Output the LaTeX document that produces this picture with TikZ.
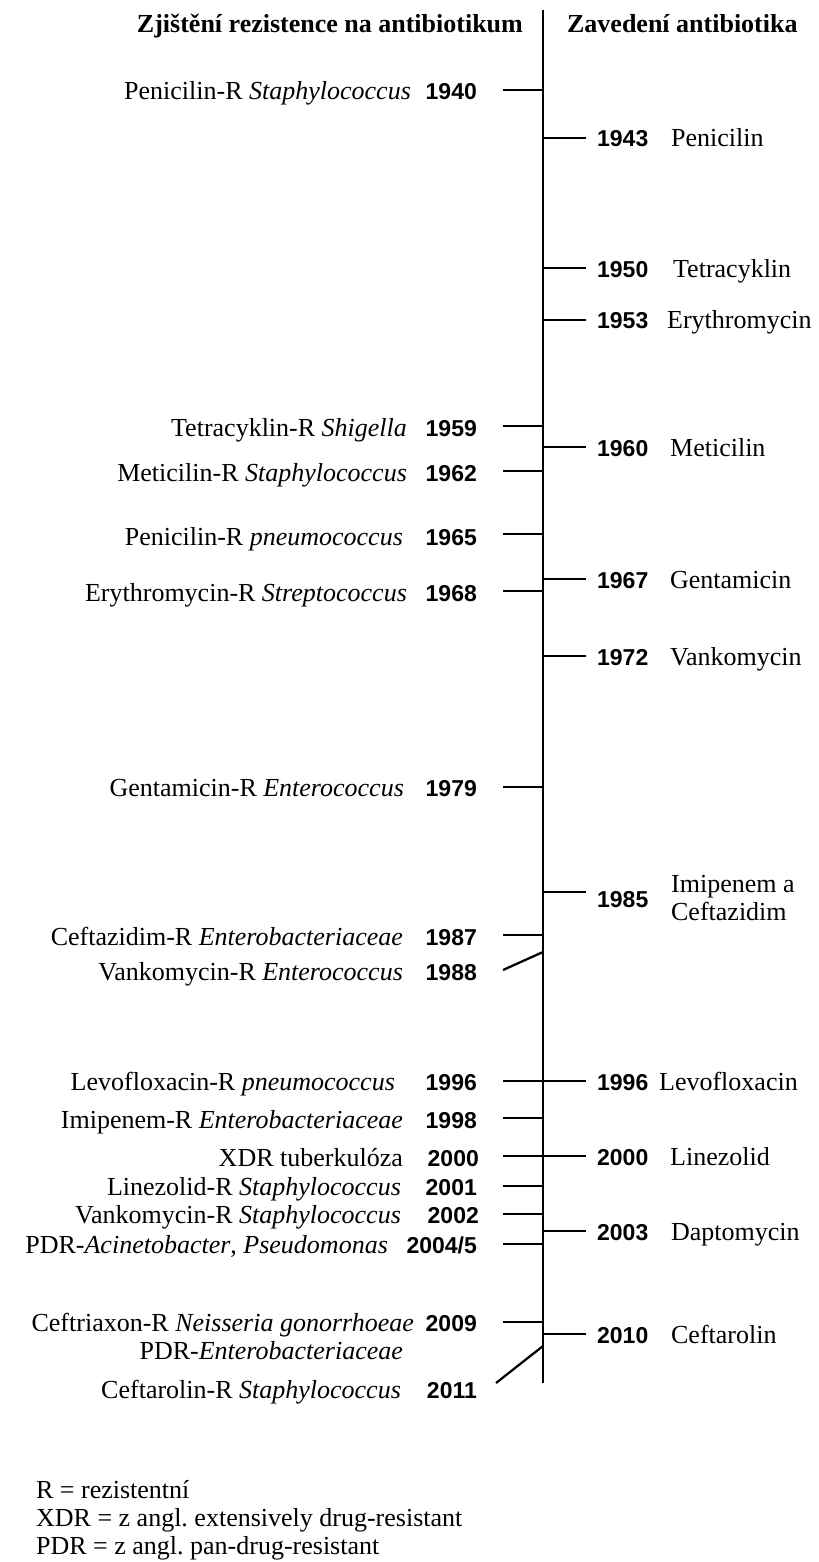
\documentclass[tikz,border=0pt]{standalone}
\usepackage{fontspec}
\setmainfont{Liberation Serif}
\newfontfamily\yrfam{Liberation Sans}
\newcommand{\lblfont}{\fontsize{19.5}{23.4}\selectfont}
\newcommand{\yrfont}{\yrfam\bfseries\fontsize{17.25}{20}\selectfont}

\begin{document}
\begin{tikzpicture}[x=0.75pt,y=-0.75pt,line width=1.7pt,
    lbl/.style={anchor=base east,inner sep=0pt,font=\lblfont},
    rlbl/.style={anchor=base west,inner sep=0pt,font=\lblfont},
    yrl/.style={anchor=base east,inner sep=0pt,font=\yrfont},
    yrr/.style={anchor=base west,inner sep=0pt,font=\yrfont}]
  \useasboundingbox (0,0) rectangle (818,1562);
  % headings
  \node[lbl,font=\lblfont\bfseries] (HL) at (524,33) {Zjištění rezistence na antibiotikum};
  \node[rlbl,font=\lblfont\bfseries] (HR) at (566,33) {Zavedení antibiotika};
  % axis
  \coordinate (top) at (543,10);
  \coordinate (bot) at (543,1383);
  \path (top) edge (bot);
  % resistance (left)
  \node[yrl] (Y1940) at (478,100) {1940};
  \node[lbl] (L1940) at (412,100) {Penicilin-R \textit{Staphylococcus}};
  \node[yrl] (Y1959) at (478,436) {1959};
  \node[lbl] (L1959) at (408,436) {Tetracyklin-R \textit{Shigella}};
  \node[yrl] (Y1962) at (478,481) {1962};
  \node[lbl] (L1962) at (408,481) {Meticilin-R \textit{Staphylococcus}};
  \node[yrl] (Y1965) at (478,545) {1965};
  \node[lbl] (L1965) at (404,545) {Penicilin-R \textit{pneumococcus}};
  \node[yrl] (Y1968) at (478,601) {1968};
  \node[lbl] (L1968) at (408,601) {Erythromycin-R \textit{Streptococcus}};
  \node[yrl] (Y1979) at (478,796) {1979};
  \node[lbl] (L1979) at (405,796) {Gentamicin-R \textit{Enterococcus}};
  \node[yrl] (Y1987) at (478,945) {1987};
  \node[lbl] (L1987) at (404,945) {Ceftazidim-R \textit{Enterobacteriaceae}};
  \node[yrl] (Y1988) at (478,980) {1988};
  \node[lbl] (L1988) at (404,980) {Vankomycin-R \textit{Enterococcus}};
  \node[yrl] (Y1996) at (478,1090) {1996};
  \node[lbl] (L1996) at (396,1090) {Levofloxacin-R \textit{pneumococcus}};
  \node[yrl] (Y1998) at (478,1128) {1998};
  \node[lbl] (L1998) at (404,1128) {Imipenem-R \textit{Enterobacteriaceae}};
  \node[yrl] (Y2000) at (480,1166) {2000};
  \node[lbl] (L2000) at (404,1166) {XDR tuberkulóza};
  \node[yrl] (Y2001) at (478,1195) {2001};
  \node[lbl] (L2001) at (402,1195) {Linezolid-R \textit{Staphylococcus}};
  \node[yrl] (Y2002) at (480,1223) {2002};
  \node[lbl] (L2002) at (402,1223) {Vankomycin-R \textit{Staphylococcus}};
  \node[yrl] (Y2004) at (478,1253) {2004/5};
  \node[lbl] (L2004) at (389,1253) {PDR-\textit{Acinetobacter}, \textit{Pseudomonas}};
  \node[yrl] (Y2009) at (478,1331) {2009};
  \node[lbl] (L2009) at (415,1331) {Ceftriaxon-R \textit{Neisseria gonorrhoeae}};
  \node[lbl] (L2009b) at (404,1359) {PDR-\textit{Enterobacteriaceae}};
  \node[yrl] (Y2011) at (478,1398) {2011};
  \node[lbl] (L2011) at (402,1398) {Ceftarolin-R \textit{Staphylococcus}};
  % introduction (right)
  \node[yrr] (Y1943) at (596,147) {1943};
  \node[rlbl] (R1943) at (670,147) {Penicilin};
  \node[yrr] (Y1950) at (596,277) {1950};
  \node[rlbl] (R1950) at (672,277) {Tetracyklin};
  \node[yrr] (Y1953) at (596,328) {1953};
  \node[rlbl] (R1953) at (666,328) {Erythromycin};
  \node[yrr] (Y1960) at (596,456) {1960};
  \node[rlbl] (R1960) at (669,456) {Meticilin};
  \node[yrr] (Y1967) at (596,588) {1967};
  \node[rlbl] (R1967) at (669,588) {Gentamicin};
  \node[yrr] (Y1972) at (596,665) {1972};
  \node[rlbl] (R1972) at (669,665) {Vankomycin};
  \node[yrr] (Y1985) at (596,907) {1985};
  \node[rlbl] (R1985) at (670,892) {Imipenem a};
  \node[rlbl] (R1985b) at (670,920) {Ceftazidim};
  \node[yrr] (Y1996r) at (596,1090) {1996};
  \node[rlbl] (R1996) at (658,1090) {Levofloxacin};
  \node[yrr] (Y2000r) at (596,1165) {2000};
  \node[rlbl] (R2000) at (669,1165) {Linezolid};
  \node[yrr] (Y2003) at (596,1240) {2003};
  \node[rlbl] (R2003) at (670,1240) {Daptomycin};
  \node[yrr] (Y2010) at (596,1343) {2010};
  \node[rlbl] (R2010) at (670,1343) {Ceftarolin};
  % ticks
  \foreach \n/\y in {1940/90,1959/426,1962/471,1965/534,1968/591,1979/787,1987/935,
      1996/1081,1998/1118,2000/1156,2001/1186,2002/1214,2004/1244,2009/1322}{
    \coordinate (a\n) at (543,\y);
    \coordinate (t\n) at (503,\y);
    \path (t\n) edge (a\n);
  }
  \foreach \n/\y in {1943/138,1950/268,1953/320,1960/447,1967/579,1972/656,1985/892,
      1996/1081,2000/1156,2003/1231,2010/1334}{
    \coordinate (b\n) at (543,\y);
    \coordinate (s\n) at (586,\y);
    \path (b\n) edge (s\n);
  }
  \coordinate (a1988) at (543,952);
  \coordinate (t1988) at (503,970);
  \path (t1988) edge (a1988);
  \coordinate (a2011) at (543,1346);
  \coordinate (t2011) at (496,1383);
  \path (t2011) edge (a2011);
  % legend
  \node[rlbl] (K1) at (35,1498) {R = rezistentní};
  \node[rlbl] (K2) at (35,1526) {XDR = z angl.\ extensively drug-resistant};
  \node[rlbl] (K3) at (35,1554) {PDR = z angl.\ pan-drug-resistant};
\end{tikzpicture}
\end{document}
